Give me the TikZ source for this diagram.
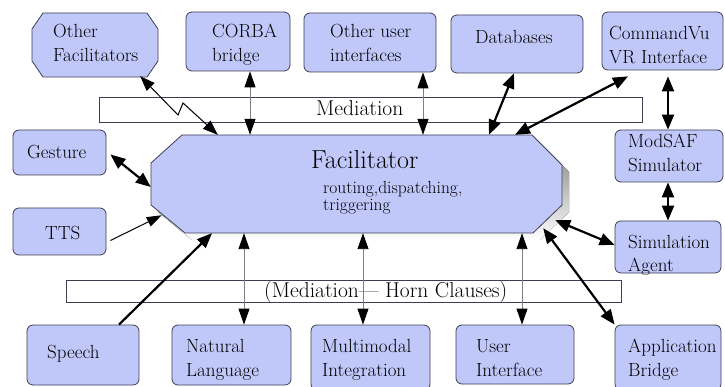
\documentclass[tikz,border=0pt]{standalone}
\usepackage{fontspec}
\usetikzlibrary{arrows.meta,calc,fit}
\definecolor{boxfill}{RGB}{192,200,250}
\definecolor{boxline}{RGB}{60,62,80}
\definecolor{shade}{RGB}{140,140,140}
\definecolor{thinline}{RGB}{128,128,128}
\newcommand\twolines[2]{\begin{tabular}[t]{@{}l@{}}#1\\#2\end{tabular}}
\tikzset{
  box/.style={draw=boxline, fill=boxfill, rounded corners=6pt, line width=0.8pt, inner sep=0pt},
  frame/.style={inner sep=0pt, draw=none},
  poly/.style={draw=boxline, fill=boxfill, line width=0.8pt},
  bar/.style={draw=boxline, fill=white, line width=0.7pt},
  lbl/.style={font=\fontsize{19}{24}\selectfont, inner sep=0pt, anchor=base west},
  barlbl/.style={font=\fontsize{21.5}{24}\selectfont, inner sep=0pt, anchor=base west},
  grayboth/.style={draw=thinline, line width=0.9pt,
    {Triangle[length=16pt,width=11pt,color=black]}-{Triangle[length=16pt,width=11pt,color=black]}},
  blackboth/.style={draw=black, line width=1pt,
    {Triangle[length=15pt,width=11pt]}-{Triangle[length=15pt,width=11pt]}},
  blackone/.style={draw=black, line width=1pt, -{Triangle[length=15pt,width=10pt]}},
  heavyboth/.style={draw=black, line width=2.2pt,
    {Triangle[length=15pt,width=12pt]}-{Triangle[length=15pt,width=12pt]}},
  heavyone/.style={draw=black, line width=2.2pt, -{Triangle[length=15pt,width=12pt]}},
}
\begin{document}
\begin{tikzpicture}[x=1pt, y=-1pt]
\useasboundingbox (0,0) rectangle (725,387);

% mediation bars
\node[bar, fit={(99,97) (642,122)}, inner sep=0pt] (medtop) {};
\node[bar, fit={(66,280) (621,302)}, inner sep=0pt] (medlow) {};
\node[barlbl] (medtop-t) at (316,116) {Mediation};
\node[barlbl] (medlow-t) at (264,298) {(Mediation— Horn Clauses)};

% the facilitator hub with its drop shadow
\node[frame, fit={(151,135) (562,233)}] (fac) {};
\fill[shade] (189,142) -- (539,142) -- (569,172) -- (569,212) -- (540,240) -- (192,240) -- (158,212) -- (158,170) -- cycle;
\draw[poly] (182,135) -- (532,135) -- (562,165) -- (562,205) -- (533,233) -- (185,233) -- (151,205) -- (151,163) -- cycle;
\node[inner sep=0pt, anchor=base west, font=\fontsize{26}{30}\selectfont] (fac-t) at (311,169) {Facilitator};
\node[inner sep=0pt, anchor=base west, font=\fontsize{17.5}{17}\selectfont] (fac-s) at (323,194)
  {\begin{tabular}[t]{@{}l@{}}routing,dispatching,\\triggering\end{tabular}};

% octagonal peer
\node[frame, fit={(32,13) (158,77)}] (ofac) {};
\draw[poly] (43,13) -- (147,13) -- (158,29) -- (158,61) -- (147,77) -- (43,77) -- (32,61) -- (32,29) -- cycle;
\node[lbl] (ofac-t) at (53,38) {\twolines{Other}{Facilitators}};

% agents
\node[box, fit={(186,12) (290,71)}] (corba) {};
\node[lbl] (corba-t) at (212,38) {\twolines{CORBA}{bridge}};
\node[box, fit={(304,13) (436,72)}] (oui) {};
\node[lbl] (oui-t) at (330,38) {\twolines{Other user}{interfaces}};
\node[box, fit={(451,15) (583,73)}] (db) {};
\node[lbl] (db-t) at (475,44) {Databases};
\node[box, fit={(602,12) (723,70)}] (cmd) {};
\node[lbl] (cmd-t) at (609,40) {\twolines{CommandVu}{VR Interface}};
\node[box, fit={(615,130) (723,182)}] (modsaf) {};
\node[lbl] (modsaf-t) at (628,148) {\twolines{ModSAF}{Simulator}};
\node[box, fit={(13,130) (106,175)}] (gest) {};
\node[lbl] (gest-t) at (27,159) {Gesture};
\node[box, fit={(13,208) (106,255)}] (tts) {};
\node[lbl] (tts-t) at (45,240) {TTS};
\node[box, fit={(615,221) (721,273)}] (sim) {};
\node[lbl] (sim-t) at (628,248) {\twolines{Simulation}{Agent}};
\node[box, fit={(27,325) (139,385)}] (speech) {};
\node[lbl] (speech-t) at (47,358) {Speech};
\node[box, fit={(172,325) (291,385)}] (nl) {};
\node[lbl] (nl-t) at (186,352) {\twolines{Natural}{Language}};
\node[box, fit={(311,325) (430,390)}] (mm) {};
\node[lbl] (mm-t) at (322,352) {\twolines{Multimodal}{Integration}};
\node[box, fit={(456,325) (574,384)}] (ui) {};
\node[lbl] (ui-t) at (476,352) {\twolines{User}{Interface}};
\node[box, fit={(615,325) (721,390)}] (appb) {};
\node[lbl] (appb-t) at (628,352) {\twolines{Application}{Bridge}};

% connectors
\draw[blackboth] ($(ofac.south east)+(-18,-1)$) -- (178,115) -- (183,103) -- ($(fac.north west)+(67,0)$);
\draw[grayboth] (250,0 |- corba.south) -- (250,0 |- fac.north);
\draw[grayboth] (423,0 |- oui.south) -- (423,0 |- fac.north);
\draw[heavyboth] (514,0 |- db.south) -- (489,0 |- fac.north);
\draw[heavyboth] ($(628,0 |- cmd.south)+(0,6)$) -- (515,0 |- fac.north);
\draw[heavyboth] ($(668,0 |- cmd.south)+(0,6)$) -- (668,0 |- modsaf.north);
\draw[heavyboth] (668,0 |- modsaf.south) -- (668,0 |- sim.north);
\draw[heavyboth] ($(gest.east)+(4,2)$) -- ($(fac.west)+(0,3)$);
\draw[blackone] ($(tts.east)+(4,9)$) -- ($(fac.south west)+(11,-18)$);
\draw[heavyone] (119,0 |- speech.north) -- (212,0 |- fac.south);
\draw[grayboth] (244,0 |- fac.south) -- (244,0 |- nl.north);
\draw[grayboth] (363,0 |- fac.south) -- (363,0 |- mm.north);
\draw[grayboth] (522,0 |- fac.south) -- (522,0 |- ui.north);
\draw[heavyboth] ($(fac.south east)+(-7,-13)$) -- ($(sim.west)+(0,-2)$);
\draw[heavyboth] ($(fac.south east)+(-19,-5)$) -- (appb.north west);
\end{tikzpicture}
\end{document}
